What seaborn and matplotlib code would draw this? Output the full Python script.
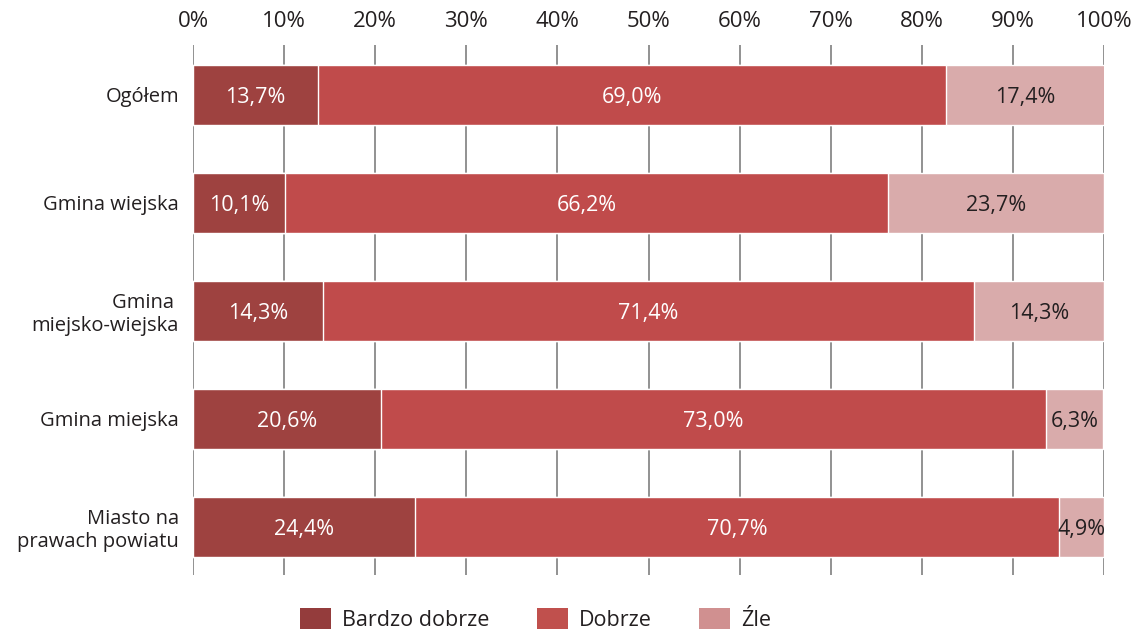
import matplotlib
matplotlib.use("Agg")
import matplotlib.pyplot as plt
from matplotlib.patches import Patch
import numpy as np
import pandas as pd
import seaborn as sns

categories = ["Ogółem", "Gmina wiejska", "Gmina \nmiejsko-wiejska", "Gmina miejska", "Miasto na\nprawach powiatu"]
bardzo_dobrze = [13.7, 10.1, 14.3, 20.6, 24.4]
dobrze = [69.0, 66.2, 71.4, 73.0, 70.7]
zle = [17.4, 23.7, 14.3, 6.3, 4.9]
series_names = ["Bardzo dobrze", "Dobrze", "Źle"]
ticks = [0, 10, 20, 30, 40, 50, 60, 70, 80, 90, 100]

bar_colors = ["#9e4240", "#c04b4b", "#d9abab"]
legend_colors = ["#943c3c", "#c0504d", "#d09090"]
text_colors = ["white", "white", "#231f20"]

sns.set_theme(style="white")
plt.rcParams["font.family"] = ["Open Sans", "DejaVu Sans"]

fig = plt.figure(figsize=(11.32, 6.32), dpi=100)
ax = fig.add_axes([0.1705, 0.0902, 0.8048, 0.8386])

series = [bardzo_dobrze, dobrze, zle]
cum = np.cumsum(np.array(series), axis=0)
df = pd.DataFrame({"cat": categories})
for i in range(2, -1, -1):
    df["v"] = cum[i]
    sns.barplot(data=df, x="v", y="cat", orient="h", color=bar_colors[i],
                saturation=1, width=0.55, ax=ax, zorder=2)

for i, s in enumerate(series):
    for j, v in enumerate(s):
        xc = cum[i][j] - v / 2
        ax.text(xc, j, f"{v:.1f}%".replace(".", ","), ha="center", va="center_baseline",
                color=text_colors[i], fontsize=15.5, zorder=3)

ax.set_xlim(0, 100)
ax.set_ylim(4.445, -0.463)
ax.set_xticks(ticks)
ax.set_xticklabels([f"{t}%" for t in ticks])
ax.xaxis.tick_top()
ax.tick_params(axis="x", length=0, pad=9, labelsize=16, colors="#231f20")
ax.tick_params(axis="y", length=0, pad=10, labelsize=14.5, colors="#231f20")
for lbl in ax.get_yticklabels():
    lbl.set_multialignment("right")
ax.grid(axis="x", color="#7f7f7f", linewidth=1.2, zorder=0)
ax.set_axisbelow(True)
ax.set_xlabel("")
ax.set_ylabel("")
for sp in ax.spines.values():
    sp.set_visible(False)

handles = [Patch(facecolor=c, edgecolor="none") for c in legend_colors]
fig.legend(handles, series_names, loc="center", bbox_to_anchor=(0.473, 0.02),
           ncol=3, frameon=False, fontsize=15.5, handlelength=1.45, handleheight=1.15,
           handletextpad=0.5, columnspacing=2.2, labelcolor="#231f20")

fig.savefig("out.png", dpi=100)
